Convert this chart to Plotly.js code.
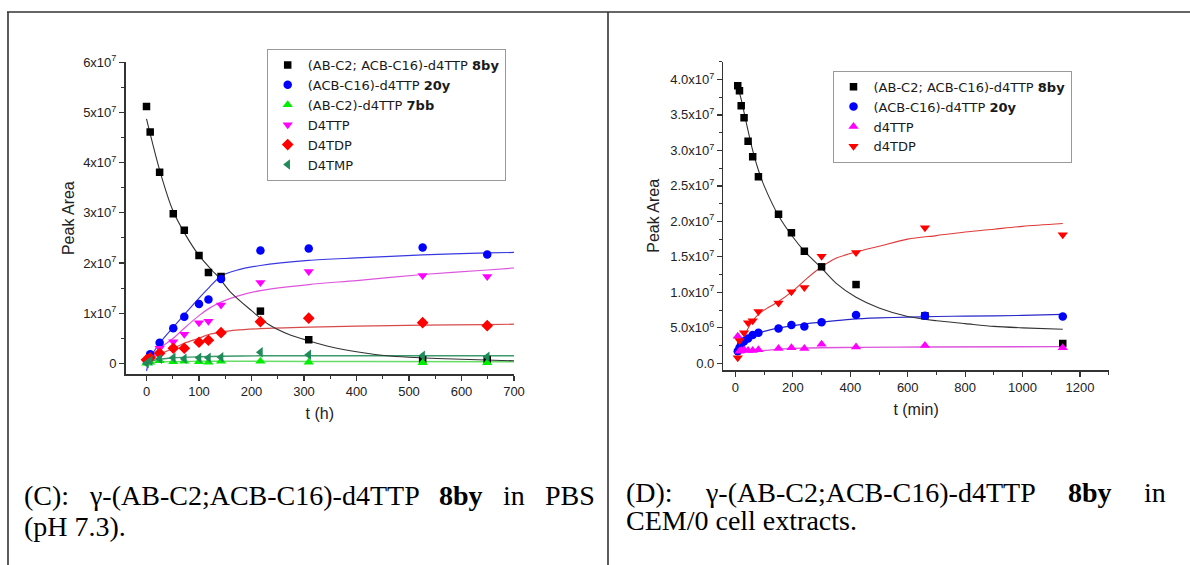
<!DOCTYPE html>
<html><head><meta charset="utf-8">
<script src="https://cdn.plot.ly/plotly-3.0.1.min.js"></script>
<style>html,body{margin:0;padding:0;background:#fff}#chart{width:1190px;height:565px}</style>
</head><body><div id="chart"></div>
<script>
// ---------- Panel C: PBS (pH 7.3), t in hours, values in units of 1e7 ----------
const tC      = [0, 7, 25, 51, 72, 100, 118, 142, 217, 309, 526, 649];
const c8by    = [5.12, 4.61, 3.81, 2.98, 2.65, 2.15, 1.81, 1.73, 1.04, 0.47, 0.07, 0.07];
const tC20    = [7, 25, 51, 72, 100, 118, 142, 217, 309, 526, 649];
const c20y    = [0.18, 0.41, 0.70, 0.93, 1.18, 1.27, 1.68, 2.25, 2.29, 2.31, 2.17];
const c7bb    = [0.00, 0.02, 0.05, 0.03, 0.04, 0.03, 0.02, 0.04, 0.04, 0.02, 0.01, 0.01];
const cD4TTP  = [0.03, 0.12, 0.30, 0.43, 0.58, 0.81, 0.84, 1.16, 1.61, 1.83, 1.75, 1.73];
const cD4TDP  = [0.07, 0.11, 0.20, 0.30, 0.30, 0.42, 0.46, 0.61, 0.83, 0.90, 0.81, 0.75];
const cD4TMP  = [0.00, 0.05, 0.09, 0.11, 0.09, 0.11, 0.11, 0.12, 0.22, 0.17, 0.15, 0.13];

// fitted curves of panel C
const fC8byT  = [0, 25, 50, 75, 100, 125, 137, 160, 200, 232, 275, 309, 350, 400, 457, 500, 600, 700];
const fC8by   = [4.87, 3.85, 3.05, 2.55, 2.15, 1.85, 1.72, 1.42, 1.05, 0.78, 0.56, 0.45, 0.33, 0.23, 0.15, 0.12, 0.08, 0.05];
const fC20yT  = [0, 7, 25, 51, 72, 100, 120, 142, 170, 217, 309, 400, 526, 649, 700];
const fC20y   = [-0.15, 0.1, 0.4, 0.72, 0.97, 1.3, 1.52, 1.74, 1.85, 1.95, 2.05, 2.1, 2.16, 2.2, 2.21];
const fCTT_T  = [0, 25, 51, 72, 100, 120, 142, 170, 217, 309, 400, 526, 649, 700];
const fCTTP   = [0.05, 0.3, 0.5, 0.7, 0.95, 1.1, 1.22, 1.33, 1.45, 1.57, 1.65, 1.77, 1.86, 1.9];
const fCTDP   = [0.05, 0.18, 0.3, 0.4, 0.5, 0.58, 0.62, 0.66, 0.69, 0.72, 0.74, 0.76, 0.77, 0.78];
const fCTMP_T = [0, 25, 51, 100, 142, 217, 309, 526, 700];
const fCTMP   = [0.03, 0.08, 0.11, 0.13, 0.14, 0.15, 0.15, 0.15, 0.15];
const fC7bbT  = [0, 25, 100, 200, 400, 700];
const fC7bb   = [0.0, 0.03, 0.04, 0.04, 0.035, 0.03];

// ---------- Panel D: CEM/0 cell extracts, t in minutes, values in units of 1e7 ----------
const tD      = [8, 14, 20, 30, 44, 60, 80, 150, 195, 240, 300, 420, 660, 1140];
const d8by    = [3.91, 3.84, 3.63, 3.46, 3.13, 2.91, 2.63, 2.10, 1.84, 1.58, 1.36, 1.11, 0.67, 0.28];
const d20y    = [0.17, 0.22, 0.27, 0.31, 0.35, 0.40, 0.43, 0.49, 0.54, 0.52, 0.58, 0.68, 0.67, 0.66];
const dTTP    = [0.38, 0.17, 0.18, 0.19, 0.18, 0.18, 0.19, 0.21, 0.22, 0.21, 0.27, 0.23, 0.25, 0.22];
const tDred   = [8, 14, 30, 44, 60, 80, 150, 195, 240, 300, 420, 660, 1140];
const dTDP    = [0.08, 0.32, 0.43, 0.57, 0.60, 0.73, 0.85, 1.01, 1.07, 1.51, 1.56, 1.91, 1.81];

// fitted curves of panel D
const fD8byT  = [8, 20, 40, 60, 80, 100, 150, 200, 240, 300, 350, 420, 500, 600, 700, 800, 900, 1000, 1140];
const fD8by   = [3.9, 3.72, 3.35, 3.0, 2.72, 2.5, 2.08, 1.78, 1.58, 1.34, 1.13, 0.93, 0.78, 0.66, 0.6, 0.56, 0.52, 0.5, 0.48];
const fDTDP_T = [8, 20, 30, 45, 60, 80, 100, 150, 200, 250, 300, 350, 420, 500, 600, 700, 800, 900, 1000, 1140];
const fDTDP   = [0.12, 0.26, 0.37, 0.5, 0.6, 0.69, 0.75, 0.87, 1.02, 1.2, 1.36, 1.48, 1.57, 1.65, 1.75, 1.8, 1.85, 1.89, 1.93, 1.97];
const fD20yT  = [8, 20, 30, 45, 60, 80, 100, 150, 200, 250, 300, 400, 500, 600, 700, 800, 1000, 1140];
const fD20y   = [0.17, 0.26, 0.3, 0.35, 0.38, 0.42, 0.45, 0.5, 0.53, 0.56, 0.58, 0.62, 0.64, 0.65, 0.66, 0.665, 0.675, 0.69];
const fDTTP_T = [8, 20, 50, 100, 150, 200, 300, 420, 660, 1140];
const fDTTP   = [0.14, 0.16, 0.17, 0.18, 0.2, 0.21, 0.22, 0.225, 0.23, 0.235];

// tick labels
const cYVals  = [0, 1e7, 2e7, 3e7, 4e7, 5e7, 6e7];
const cYText  = ['0', '1x10<sup>7</sup>', '2x10<sup>7</sup>', '3x10<sup>7</sup>', '4x10<sup>7</sup>', '5x10<sup>7</sup>', '6x10<sup>7</sup>'];
const dYVals  = [0, 5e6, 1e7, 1.5e7, 2e7, 2.5e7, 3e7, 3.5e7, 4e7];
const dYText  = ['0.0', '5.0x10<sup>6</sup>', '1.0x10<sup>7</sup>', '1.5x10<sup>7</sup>', '2.0x10<sup>7</sup>', '2.5x10<sup>7</sup>', '3.0x10<sup>7</sup>', '3.5x10<sup>7</sup>', '4.0x10<sup>7</sup>'];

// legend names
const namesC = ['(AB-C2; ACB-C16)-d4TTP <b>8by</b>', '(ACB-C16)-d4TTP <b>20y</b>', '(AB-C2)-d4TTP <b>7bb</b>', 'D4TTP', 'D4TDP', 'D4TMP'];
const namesD = ['(AB-C2; ACB-C16)-d4TTP <b>8by</b>', '(ACB-C16)-d4TTP <b>20y</b>', 'd4TTP', 'd4TDP'];

// ---------- helpers ----------
const W = 1190, H = 565;
const px = v => v / W, py = v => 1 - v / H;
const E7 = v => v * 1e7;
const SANS = 'Liberation Sans, Arial, sans-serif';
const LEG = 'DejaVu Sans, Liberation Sans, sans-serif';
const SERIF = 'Liberation Serif, Times New Roman, serif';

function pts(x, y, name, symbol, color, size, xa, ya, legend) {
  return {type: 'scatter', mode: 'markers', x: x, y: y.map(E7), name: name,
    marker: {symbol: symbol, color: color, size: size, line: {width: 0}},
    xaxis: xa, yaxis: ya, legend: legend};
}
function fit(x, y, color, width, xa, ya) {
  return {type: 'scatter', mode: 'lines', x: x, y: y.map(E7), showlegend: false, hoverinfo: 'skip',
    line: {color: color, width: width, shape: 'spline', smoothing: 0.8}, xaxis: xa, yaxis: ya};
}

const data = [
  fit(fC7bbT, fC7bb, '#66dd66', 1.4, 'x', 'y'),
  fit(fCTMP_T, fCTMP, '#3a9a6a', 1.4, 'x', 'y'),
  fit(fCTT_T, fCTDP, '#d84a4a', 1.2, 'x', 'y'),
  fit(fCTT_T, fCTTP, '#dd55dd', 1.2, 'x', 'y'),
  fit(fC20yT, fC20y, '#3838e0', 1.2, 'x', 'y'),
  fit(fC8byT, fC8by, '#333333', 1.1, 'x', 'y'),
  pts(tC, c8by, namesC[0], 'square', '#000000', 7.5, 'x', 'y', 'legend'),
  pts(tC20, c20y, namesC[1], 'circle', '#0000ff', 8.5, 'x', 'y', 'legend'),
  pts(tC, c7bb, namesC[2], 'triangle-up', '#00ee00', 9, 'x', 'y', 'legend'),
  pts(tC, cD4TTP, namesC[3], 'triangle-down', '#ff00ff', 9, 'x', 'y', 'legend'),
  pts(tC, cD4TDP, namesC[4], 'diamond', '#ff0000', 9, 'x', 'y', 'legend'),
  pts(tC, cD4TMP, namesC[5], 'triangle-left', '#1f8a5a', 9, 'x', 'y', 'legend'),

  fit(fDTTP_T, fDTTP, '#dd55dd', 1.4, 'x2', 'y2'),
  fit(fD20yT, fD20y, '#2828c8', 1.2, 'x2', 'y2'),
  fit(fDTDP_T, fDTDP, '#dd3a3a', 1.1, 'x2', 'y2'),
  fit(fD8byT, fD8by, '#333333', 1.1, 'x2', 'y2'),
  pts(tD, d8by, namesD[0], 'square', '#000000', 7.5, 'x2', 'y2', 'legend2'),
  pts(tD, d20y, namesD[1], 'circle', '#0000ff', 8.5, 'x2', 'y2', 'legend2'),
  pts(tD, dTTP, namesD[2], 'triangle-up', '#ff00ff', 9, 'x2', 'y2', 'legend2'),
  pts(tDred, dTDP, namesD[3], 'triangle-down', '#ff0000', 9, 'x2', 'y2', 'legend2')
];

const axisCommon = {
  showline: true, linecolor: '#333', linewidth: 1.5, mirror: false,
  ticks: 'outside', ticklen: 5, tickwidth: 1.2, tickcolor: '#333',
  showgrid: false, zeroline: false, automargin: false,
  tickfont: {family: SANS, size: 13, color: '#222'}
};
const titleFont = {family: SANS, size: 16, color: '#222'};
const legendFont = {family: LEG, size: 13, color: '#1a1a1a'};

const layout = {
  width: W, height: H,
  margin: {l: 0, r: 0, t: 0, b: 0, pad: 0},
  paper_bgcolor: '#fff', plot_bgcolor: 'rgba(0,0,0,0)',
  font: {family: SANS, color: '#222'},
  xaxis: Object.assign({}, axisCommon, {
    domain: [px(125.5), px(514)], anchor: 'y', range: [-40, 700],
    tick0: 0, dtick: 100,
    minor: {ticks: 'outside', ticklen: 3, tickwidth: 1, tickcolor: '#333', dtick: 50, tick0: 0, showgrid: false},
    title: {text: 't (h)', font: titleFont, standoff: 9}
  }),
  yaxis: Object.assign({}, axisCommon, {
    domain: [py(374), py(62.3)], anchor: 'x', range: [-2.13e6, 6e7],
    tickmode: 'array', tickvals: cYVals, ticktext: cYText,
    minor: {ticks: 'outside', ticklen: 3, tickwidth: 1, tickcolor: '#333', dtick: 5e6, tick0: 0, showgrid: false},
    title: {text: 'Peak Area', font: titleFont, standoff: 4}
  }),
  xaxis2: Object.assign({}, axisCommon, {
    domain: [px(723.4), px(1108.7)], anchor: 'y2', range: [-42, 1300],
    tick0: 0, dtick: 200,
    minor: {ticks: 'outside', ticklen: 3, tickwidth: 1, tickcolor: '#333', dtick: 100, tick0: 0, showgrid: false},
    title: {text: 't (min)', font: titleFont, standoff: 9}
  }),
  yaxis2: Object.assign({}, axisCommon, {
    domain: [py(370), py(61.7)], anchor: 'x2', range: [-0.94e6, 4.25e7],
    tickmode: 'array', tickvals: dYVals, ticktext: dYText,
    minor: {ticks: 'outside', ticklen: 3, tickwidth: 1, tickcolor: '#333', dtick: 2.5e6, tick0: 0, showgrid: false},
    title: {text: 'Peak Area', font: titleFont, standoff: 6}
  }),
  legend: {x: px(266.7), y: py(49), xanchor: 'left', yanchor: 'top',
    bgcolor: '#fff', bordercolor: '#999', borderwidth: 1, tracegroupgap: 0, font: legendFont},
  legend2: {x: px(832.5), y: py(70.7), xanchor: 'left', yanchor: 'top',
    bgcolor: '#fff', bordercolor: '#999', borderwidth: 1, tracegroupgap: 0, font: legendFont},
  shapes: [
    {type: 'line', xref: 'paper', yref: 'paper', x0: px(7), x1: px(1190), y0: py(12), y1: py(12), line: {color: '#333', width: 1.6}},
    {type: 'line', xref: 'paper', yref: 'paper', x0: px(8), x1: px(8), y0: py(12), y1: py(565), line: {color: '#333', width: 1.6}},
    {type: 'line', xref: 'paper', yref: 'paper', x0: px(608), x1: px(608), y0: py(12), y1: py(565), line: {color: '#333', width: 1.6}}
  ],
  annotations: []
};

// ---------- captions (justified first line) ----------
const CAP_SIZE = 28;
const cv = document.createElement('canvas').getContext('2d');
function wordWidth(w) {
  cv.font = (w.bold ? 'bold ' : '') + CAP_SIZE + 'px "Liberation Serif"';
  return cv.measureText(w.t).width;
}
function addWord(w, x, base) {
  layout.annotations.push({xref: 'paper', yref: 'paper', x: px(x), y: py(base - 9.5),
    xanchor: 'left', yanchor: 'middle', showarrow: false, borderpad: 0,
    text: w.bold ? '<b>' + w.t + '</b>' : w.t,
    font: {family: SERIF, size: CAP_SIZE, color: '#000'}});
}
function justified(words, x0, x1, base) {
  const ws = words.map(wordWidth);
  const total = ws.reduce((a, b) => a + b, 0);
  const gap = (x1 - x0 - total) / (words.length - 1);
  let x = x0;
  words.forEach((w, i) => { addWord(w, x, base); x += ws[i] + gap; });
}
justified([{t: '(C):'}, {t: 'γ-(AB-C2;ACB-C16)-d4TTP'}, {t: '8by', bold: true}, {t: 'in'}, {t: 'PBS'}], 23, 594, 505);
addWord({t: '(pH 7.3).'}, 23, 536);
justified([{t: '(D):'}, {t: 'γ-(AB-C2;ACB-C16)-d4TTP'}, {t: '8by', bold: true}, {t: 'in'}], 625, 1165, 502);
addWord({t: 'CEM/0 cell extracts.'}, 625, 530);

Plotly.newPlot('chart', data, layout, {displayModeBar: false, staticPlot: true});
</script>
</body></html>
